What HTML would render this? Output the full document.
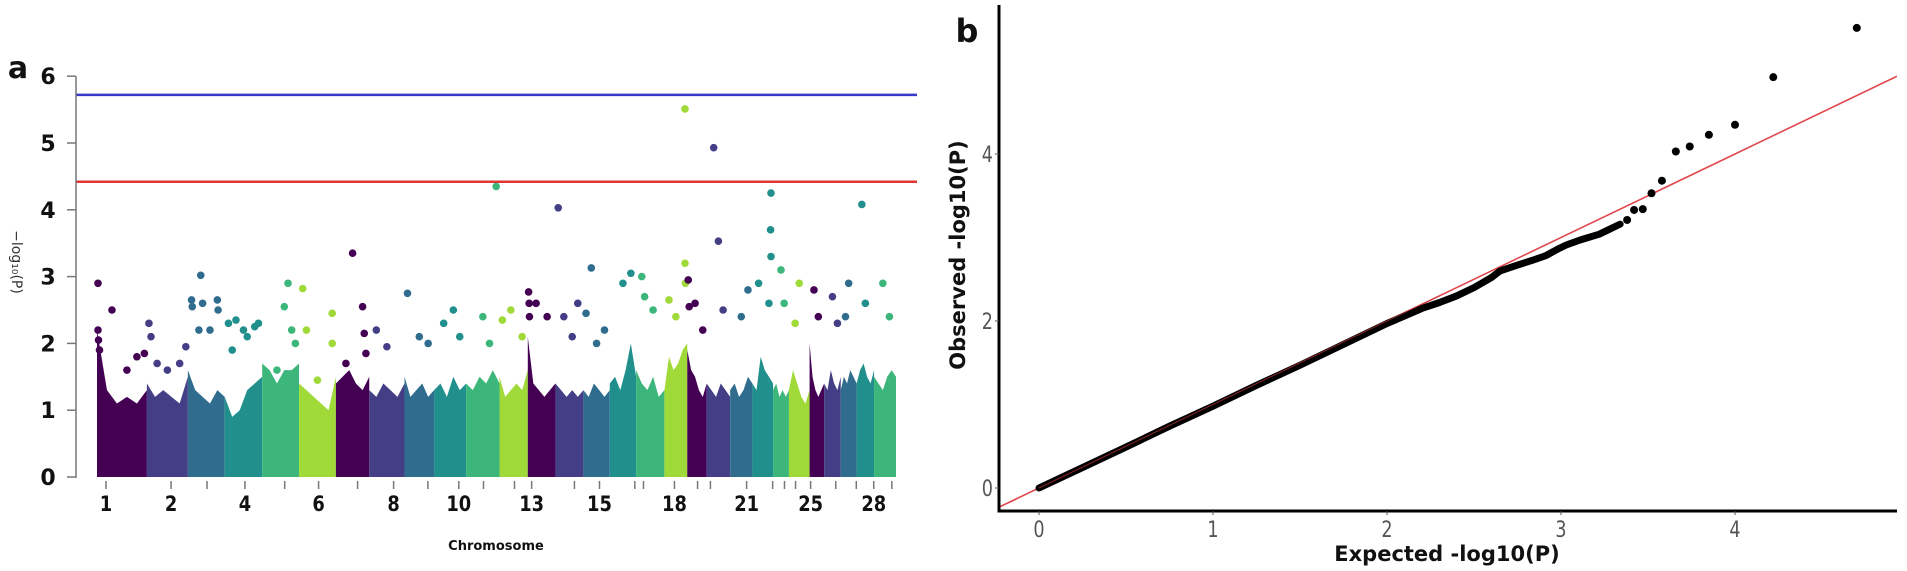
<!DOCTYPE html>
<html><head><meta charset="utf-8"><style>
html,body{margin:0;padding:0;background:#fff;}
svg{display:block;font-family:"DejaVu Sans","Liberation Sans",sans-serif;}
</style></head><body>
<svg id="fig" width="1907" height="571" viewBox="0 0 1907 571" xmlns="http://www.w3.org/2000/svg">
<g id="panelA"></g>
<g id="panelB"></g>
</svg>
<script>
// ---------- Panel a data ----------
const chromLengths=[157,129,116,118,116,116,105,111,93,101,105,89,87,88,83,83,89,72,61,74,70,65,50,65,46,52,50,55,69];
const tickFrac=[0.18,0.59,0.52,0.54,0.61,0.53,0.65,0.69,0.79,0.77,0.52,0.53,0.14,0.68,0.61,0.95,0.26,0.44,0.53,0.16,0.74,0.98,0.72,0.32,0.07,0.7,0.98,0.98,0.81];
const tickLabels=["1","2","4","6","8","10","13","15","18","21","25","28"];
const tickChroms=[1,2,4,6,8,10,13,15,18,21,25,28];
const yTicks=[0,1,2,3,4,5,6];
const suggestiveLine=4.42;
const genomeWideLine=5.72;
const envelopes=[
[2.2,1.3,1.1,1.2,1.1,1.3],[1.4,1.2,1.3,1.2,1.1,1.5],[1.6,1.3,1.2,1.1,1.3,1.2],
[1.2,0.9,1.0,1.3,1.4,1.5],[1.7,1.6,1.4,1.6,1.6,1.7],[1.4,1.3,1.2,1.1,1.0,1.5],
[1.4,1.5,1.6,1.4,1.3,1.5],[1.3,1.2,1.4,1.3,1.2,1.4],[1.5,1.2,1.3,1.4,1.2,1.3],
[1.3,1.4,1.2,1.5,1.3,1.4],[1.4,1.3,1.5,1.4,1.6,1.4],[1.5,1.2,1.3,1.4,1.3,1.6],
[2.1,1.4,1.3,1.2,1.3,1.4],[1.4,1.3,1.2,1.3,1.2,1.3],[1.3,1.2,1.4,1.3,1.2,1.3],
[1.4,1.5,1.3,1.6,2.0,1.5],[1.6,1.4,1.3,1.5,1.2,1.3],[1.3,1.8,1.6,1.7,1.9,2.0],
[1.9,1.6,1.5,1.3,1.2,1.4],[1.4,1.3,1.2,1.4,1.3,1.2],[1.3,1.4,1.2,1.3,1.5,1.4],
[1.4,1.3,1.8,1.6,1.5,1.4],[1.3,1.4,1.2,1.3,1.2,1.3],[1.3,1.6,1.4,1.2,1.1,1.3],
[2.0,1.5,1.3,1.2,1.3,1.4],[1.4,1.3,1.6,1.4,1.3,1.5],[1.3,1.5,1.4,1.6,1.5,1.4],
[1.4,1.6,1.7,1.5,1.4,1.6],[1.5,1.4,1.3,1.5,1.6,1.5]];
const ptChr=[1,1,1,1,1,1,1,1, 2,2,2,2,2,2, 3,3,3,3,3,3,3,3, 4,4,4,4,4,4,4, 5,5,5,5,5, 6,6,6,6,6, 7,7,7,7,7, 8,8, 9,9,9, 10,10,10, 11,11,11, 12,12,12, 13,13,13,13,13, 14,14,14,14, 15,15,15,15, 16,16, 17,17,17, 18,18,18,18,18, 19,19,19,19, 20,20,20, 21,21, 22,22,22,22,22, 23,23, 24,24, 25,25, 26,26, 27,27, 28,28, 29,29];
const ptPos=[0.02,0.02,0.03,0.05,0.3,0.6,0.8,0.95, 0.05,0.1,0.25,0.5,0.8,0.95, 0.1,0.12,0.4,0.6,0.8,0.82,0.35,0.3, 0.1,0.3,0.5,0.8,0.9,0.2,0.6, 0.7,0.6,0.8,0.9,0.4, 0.1,0.2,0.9,0.9,0.5, 0.5,0.8,0.85,0.9,0.3, 0.2,0.5, 0.1,0.5,0.8, 0.3,0.6,0.8, 0.9,0.5,0.7, 0.1,0.4,0.8, 0.03,0.05,0.06,0.3,0.7, 0.1,0.3,0.6,0.8, 0.3,0.1,0.5,0.8, 0.5,0.8, 0.2,0.3,0.6, 0.2,0.9,0.9,0.92,0.5, 0.05,0.1,0.4,0.8, 0.3,0.5,0.7, 0.5,0.8, 0.3,0.9,0.88,0.9,0.8, 0.5,0.7, 0.5,0.3, 0.3,0.6, 0.5,0.8, 0.5,0.3, 0.3,0.5, 0.4,0.7];
const ptVal=[2.9,2.2,2.05,1.9,2.5,1.6,1.8,1.85, 2.3,2.1,1.7,1.6,1.7,1.95, 2.65,2.55,2.6,2.2,2.65,2.5,3.02,2.2, 2.3,2.35,2.2,2.25,2.3,1.9,2.1, 2.9,2.55,2.2,2.0,1.6, 2.82,2.2,2.45,2.0,1.45, 3.35,2.55,2.15,1.85,1.7, 2.2,1.95, 2.75,2.1,2.0, 2.3,2.5,2.1, 4.35,2.4,2.0, 2.35,2.5,2.1, 2.77,2.6,2.4,2.6,2.4, 4.03,2.4,2.1,2.6, 3.13,2.45,2.0,2.2, 2.9,3.05, 3.0,2.7,2.5, 2.65,5.51,3.2,2.9,2.4, 2.95,2.55,2.6,2.2, 4.93,3.53,2.5, 2.4,2.8, 2.9,3.3,3.7,4.25,2.6, 3.1,2.6, 2.9,2.3, 2.8,2.4, 2.7,2.3, 2.9,2.4, 4.08,2.6, 2.9,2.4];
const palette=["#440154","#433e85","#2f6c8e","#21908d","#3cb67a","#a0da39"];

// ---------- Panel b data ----------
const qqLineExp=[0,0.25,0.5,0.75,1,1.25,1.5,1.75,2,2.1,2.2,2.3,2.4,2.5,2.6,2.65,2.75,2.84,2.91,2.99,3.03,3.11,3.22,3.34];
const qqLineObs=[0,0.245,0.49,0.74,0.98,1.23,1.47,1.72,1.97,2.06,2.15,2.22,2.3,2.4,2.52,2.6,2.67,2.73,2.78,2.87,2.91,2.97,3.04,3.16];
const qqPtExp=[3.38,3.42,3.47,3.52,3.58,3.66,3.74,3.85,4.0,4.22,4.70];
const qqPtObs=[3.21,3.33,3.34,3.53,3.68,4.03,4.09,4.23,4.35,4.92,5.51];
const qqXTicks=[0,1,2,3,4];
const qqYTicks=[0,2,4];

const NS="http://www.w3.org/2000/svg";
function mk(tag,attrs,parent,text){const e=document.createElementNS(NS,tag);for(const k in attrs)e.setAttribute(k,attrs[k]);if(text!==undefined)e.textContent=text;parent.appendChild(e);return e;}

// ---------- Panel a ----------
const A=document.getElementById('panelA');
const ax0=97, ax1=896, ay0=477, ayUnit=66.8, axisX=76;
const total=chromLengths.reduce((a,b)=>a+b,0);
const starts=[];let acc=0;for(const l of chromLengths){starts.push(acc);acc+=l;}
const xg=g=>ax0+(g/total)*(ax1-ax0);
const ya=v=>ay0-v*ayUnit;
const xc=(c,p)=>xg(starts[c-1]+p*chromLengths[c-1]);

chromLengths.forEach((len,i)=>{
  const env=envelopes[i];const col=palette[i%6];
  const x0=xg(starts[i]),x1=xg(starts[i]+len);
  let d=`M${x0},${ay0}`;
  env.forEach((v,j)=>{const x=x0+(x1-x0)*(j/(env.length-1));d+=` L${x},${ya(v)}`;});
  d+=` L${x1},${ay0} Z`;
  const p=mk('path',{d:d,fill:col},A);
  
  
});
ptChr.forEach((c,i)=>{
  const pt=mk('circle',{cx:xc(c,ptPos[i]),cy:ya(ptVal[i]),r:3.8,fill:palette[(c-1)%6]},A);
  
  
});
const bl=mk('line',{x1:axisX,x2:917,y1:ya(genomeWideLine),y2:ya(genomeWideLine),stroke:'#3838c8','stroke-width':2.5},A);


const rl=mk('line',{x1:axisX,x2:917,y1:ya(suggestiveLine),y2:ya(suggestiveLine),stroke:'#e03535','stroke-width':2.5},A);


const yax=mk('line',{x1:axisX,x2:axisX,y1:ya(6),y2:ay0+1,stroke:'#777','stroke-width':1.5},A);


yTicks.forEach(t=>{
  mk('line',{x1:axisX-9,x2:axisX,y1:ya(t),y2:ya(t),stroke:'#777','stroke-width':1.5},A);
  const tl=mk('text',{x:48,y:ya(t)+8,'text-anchor':'middle','font-size':22,'font-weight':'bold',fill:'#111'},A,String(t));
  
  
});
chromLengths.forEach((len,i)=>{
  const x=xc(i+1,tickFrac[i]);
  const tk=mk('line',{x1:x,x2:x,y1:ay0+4,y2:ay0+12,stroke:'#777','stroke-width':1.5},A);
  
  
});
tickChroms.forEach((c,i)=>{
  const x=xc(c,tickFrac[c-1]);
  const tl=mk('text',{x:x,y:511,'text-anchor':'middle','font-size':21,'font-weight':'bold',fill:'#111',transform:`translate(${x},0) scale(0.85,1) translate(${-x},0)`},A,tickLabels[i]);
  
  
});
let t=mk('text',{x:496,y:550,'text-anchor':'middle','font-size':13,'font-weight':'bold',fill:'#111'},A,'Chromosome');


t=mk('text',{x:0,y:0,'text-anchor':'middle','font-size':14,fill:'#333',transform:'translate(12,262) rotate(90)'},A,'−log₁₀(P)');


t=mk('text',{x:18,y:78,'text-anchor':'middle','font-size':30,'font-weight':'bold',fill:'#111'},A,'a');



// ---------- Panel b ----------
const B=document.getElementById('panelB');
const bx0=999,bx1=1897,by0=5,by1=511;
const xb=v=>1039+v*174;
const yb=v=>488-v*83.5;
const cp=mk('clipPath',{id:'qqclip'},B);
mk('rect',{x:bx0,y:by0,width:bx1-bx0,height:by1-by0},cp);
const lo=(bx0-1039)/174, hi=(bx1-1039)/174;
const ref=mk('line',{x1:xb(lo),y1:yb(lo),x2:xb(hi),y2:yb(hi),stroke:'#e0474c','stroke-width':1.6,'clip-path':'url(#qqclip)'},B);


const pts=qqLineExp.map((e,i)=>xb(e)+','+yb(qqLineObs[i])).join(' ');
const pl=mk('polyline',{points:pts,fill:'none',stroke:'#000','stroke-width':7,'stroke-linecap':'round','stroke-linejoin':'round'},B);


const ref2=mk('line',{x1:xb(0),y1:yb(0),x2:xb(2.3),y2:yb(2.3),stroke:'#c0343a','stroke-width':1,'opacity':0.7},B);


qqPtExp.forEach((e,i)=>{
  const c=mk('circle',{cx:xb(e),cy:yb(qqPtObs[i]),r:4,fill:'#000'},B);
  
  
});
const bya=mk('line',{x1:bx0,x2:bx0,y1:by0,y2:by1+1.5,stroke:'#000','stroke-width':3},B);


const bxa=mk('line',{x1:bx0-1.5,x2:bx1,y1:by1,y2:by1,stroke:'#000','stroke-width':3},B);


qqXTicks.forEach(v=>{
  mk('line',{x1:xb(v),x2:xb(v),y1:by1,y2:by1+4,stroke:'#555','stroke-width':1},B);
  const tl=mk('text',{x:xb(v),y:537,'text-anchor':'middle','font-size':22,fill:'#555',transform:`translate(${xb(v)},0) scale(0.8,1) translate(${-xb(v)},0)`},B,String(v));
  
  
});
qqYTicks.forEach(v=>{
  mk('line',{x1:bx0-4,x2:bx0,y1:yb(v),y2:yb(v),stroke:'#555','stroke-width':1},B);
  const tl=mk('text',{x:993,y:yb(v)+8,'text-anchor':'end','font-size':22,fill:'#555',transform:`translate(993,0) scale(0.8,1) translate(-993,0)`},B,String(v));
  
  
});
t=mk('text',{x:1447,y:561,'text-anchor':'middle','font-size':21,'font-weight':'bold',fill:'#111'},B,'Expected -log10(P)');


t=mk('text',{x:0,y:0,'text-anchor':'middle','font-size':21,'font-weight':'bold',fill:'#111',transform:'translate(965,255) rotate(-90)'},B,'Observed -log10(P)');


t=mk('text',{x:967,y:42,'text-anchor':'middle','font-size':32,'font-weight':'bold',fill:'#111'},B,'b');


</script>
</body></html>
